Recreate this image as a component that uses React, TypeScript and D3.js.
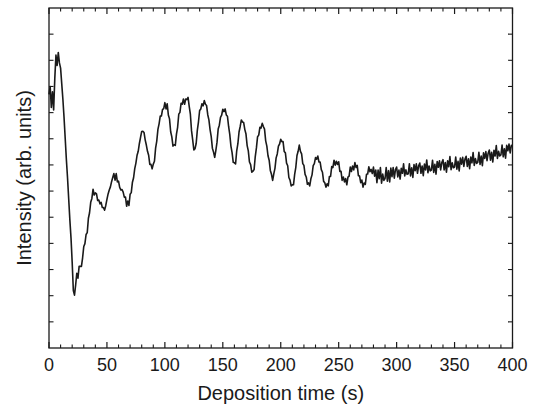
import React from "react";
import * as d3 from "d3";

// Deposition time (s), sampled every 1 s from 0 to 400
const timeStart = 0;
const timeStep = 1;

// Intensity (arb. units), one value per second
const intensity: number[] = [
  // 0-9
  9.7, 10.0, 9.2, 9.8, 9.1, 10.3, 11.2, 10.8, 11.3, 10.9,
  // 10-19
  10.7, 10.1, 9.5, 8.8, 8.0, 7.2, 6.5, 5.7, 4.9, 4.2,
  // 20-29
  3.28, 2.2, 2.02, 2.41, 2.86, 2.67, 3.12, 3.12, 3.12, 3.45,
  // 30-39
  3.88, 3.99, 4.34, 4.41, 4.96, 5.17, 5.57, 5.72, 6.07, 5.85,
  // 40-49
  5.93, 5.89, 5.64, 5.66, 5.51, 5.57, 5.37, 5.37, 5.27, 5.45,
  // 50-59
  5.68, 5.89, 6.04, 6.16, 6.36, 6.52, 6.67, 6.42, 6.67, 6.35,
  // 60-69
  6.38, 6.14, 6.04, 6.06, 5.96, 5.77, 5.77, 5.42, 5.62, 5.45,
  // 70-79
  5.88, 5.94, 6.34, 6.51, 6.86, 7.07, 7.37, 7.52, 7.82, 8.05,
  // 80-89
  8.28, 8.29, 8.24, 7.96, 7.76, 7.52, 7.37, 7.02, 7.02, 6.85,
  // 90-99
  7.03, 7.14, 7.64, 7.91, 8.36, 8.57, 8.87, 8.87, 9.12, 9.15,
  // 100-109
  9.38, 9.14, 9.34, 8.91, 8.76, 8.27, 8.07, 7.72, 7.77, 7.75,
  // 110-119
  8.18, 8.44, 8.94, 9.01, 9.36, 9.32, 9.52, 9.32, 9.52, 9.5,
  // 120-129
  9.58, 9.24, 8.94, 8.31, 7.96, 7.57, 7.62, 7.82, 8.32, 8.65,
  // 130-139
  9.08, 9.14, 9.34, 9.26, 9.46, 9.32, 9.27, 8.92, 8.72, 8.35,
  // 140-149
  8.08, 7.64, 7.49, 7.29, 7.56, 7.87, 8.37, 8.52, 8.82, 8.9,
  // 150-159
  9.13, 9.04, 9.14, 8.91, 8.86, 8.47, 8.17, 7.72, 7.47, 7.1,
  // 160-169
  7.08, 7.04, 7.54, 7.81, 8.26, 8.47, 8.72, 8.64, 8.62, 8.35,
  // 170-179
  8.18, 7.74, 7.54, 7.11, 7.01, 6.72, 6.76, 6.82, 7.32, 7.65,
  // 180-189
  8.08, 8.14, 8.44, 8.41, 8.59, 8.47, 8.37, 7.92, 7.72, 7.35,
  // 190-199
  7.18, 6.79, 6.64, 6.41, 6.66, 6.87, 7.27, 7.42, 7.72, 7.8,
  // 200-209
  7.98, 7.89, 7.89, 7.51, 7.46, 7.07, 6.97, 6.52, 6.42, 6.2,
  // 210-219
  6.24, 6.24, 6.64, 6.91, 7.36, 7.52, 7.76, 7.52, 7.42, 7.05,
  // 220-229
  6.98, 6.64, 6.54, 6.26, 6.31, 6.2, 6.47, 6.62, 6.97, 7.05,
  // 230-239
  7.28, 7.22, 7.34, 7.11, 7.11, 6.82, 6.72, 6.37, 6.32, 6.15,
  // 240-249
  6.28, 6.2, 6.56, 6.56, 6.94, 6.9, 7.18, 6.99, 7.14, 7.02,
  // 250-259
  7.12, 6.75, 6.76, 6.41, 6.54, 6.35, 6.48, 6.24, 6.53, 6.57,
  // 260-269
  6.92, 6.75, 6.96, 6.81, 7.09, 6.9, 6.98, 6.59, 6.58, 6.32,
  // 270-279
  6.42, 6.15, 6.31, 6.26, 6.64, 6.65, 6.93, 6.74, 6.83, 6.67,
  // 280-289
  6.92, 6.57, 6.8, 6.32, 6.8, 6.47, 6.9, 6.3, 6.65, 6.41,
  // 290-299
  6.48, 6.9, 6.38, 6.78, 6.35, 6.88, 6.55, 6.9, 6.49, 6.82,
  // 300-309
  6.92, 6.54, 6.8, 6.46, 6.87, 6.68, 7.04, 6.58, 6.81, 6.64,
  // 310-319
  6.66, 7.04, 6.58, 6.89, 6.52, 7.01, 6.78, 7.04, 6.68, 6.97,
  // 320-329
  7.07, 6.68, 6.96, 6.59, 7.03, 6.81, 7.19, 6.7, 6.96, 6.77,
  // 330-339
  6.8, 7.18, 6.71, 7.02, 6.65, 7.13, 6.91, 7.16, 6.81, 7.09,
  // 340-349
  7.2, 6.81, 7.09, 6.72, 7.16, 6.93, 7.32, 6.82, 7.08, 6.89,
  // 350-359
  6.92, 7.3, 6.84, 7.14, 6.77, 7.26, 7.03, 7.29, 6.94, 7.22,
  // 360-369
  7.33, 6.94, 7.23, 6.86, 7.3, 7.08, 7.47, 6.98, 7.24, 7.06,
  // 370-379
  7.1, 7.48, 7.02, 7.34, 6.97, 7.46, 7.25, 7.51, 7.16, 7.45,
  // 380-389
  7.57, 7.18, 7.48, 7.11, 7.56, 7.34, 7.74, 7.25, 7.52, 7.34,
  // 390-400
  7.38, 7.76, 7.31, 7.62, 7.26, 7.75, 7.54, 7.8, 7.46, 7.75, 7.7,
];

const xMajorTicks = [0, 50, 100, 150, 200, 250, 300, 350, 400];
const xMinorStep = 10;
const yTickCount = 13;
const xTitle = "Deposition time (s)";
const yTitle = "Intensity (arb. units)";

const W = 533;
const H = 407;
const M = { left: 49, right: 512.5, top: 8, bottom: 348 };
const FONT = "'Liberation Sans', Arial, Helvetica, sans-serif";
const INK = "#1a1a1a";

export default function App() {
  const x = d3.scaleLinear().domain([0, 400]).range([M.left, M.right]);
  const y = d3.scaleLinear().domain([0, yTickCount]).range([M.bottom, M.top]);

  const pts: [number, number][] = intensity.map((v, i) => [timeStart + i * timeStep, v]);
  const line = d3
    .line<[number, number]>()
    .x((d) => x(d[0]))
    .y((d) => y(d[1]));

  const minor = d3.range(0, 400 + 0.001, xMinorStep).filter((t) => !xMajorTicks.includes(t));
  const yTicks = d3.range(1, yTickCount);

  return (
    <svg
      width={W}
      height={H}
      style={{ position: "absolute", left: 0, top: 0, background: "#fff" }}
      fontFamily={FONT}
    >
      <rect x={0} y={0} width={W} height={H} fill="#fff" />
      <path d={line(pts) || ""} fill="none" stroke={INK} strokeWidth={1.6} strokeLinejoin="round" />

      {/* frame */}
      <rect
        x={M.left}
        y={M.top}
        width={M.right - M.left}
        height={M.bottom - M.top}
        fill="none"
        stroke={INK}
        strokeWidth={1.3}
      />

      {/* x ticks bottom and top */}
      {xMajorTicks.map((t) => (
        <g key={"xM" + t}>
          <line x1={x(t)} x2={x(t)} y1={M.bottom} y2={M.bottom - 6} stroke={INK} strokeWidth={1.2} />
          <line x1={x(t)} x2={x(t)} y1={M.top} y2={M.top + 6} stroke={INK} strokeWidth={1.2} />
          <text x={x(t)} y={370.5} textAnchor="middle" fontSize={18} fill={INK}>
            {t}
          </text>
        </g>
      ))}
      {minor.map((t) => (
        <g key={"xm" + t}>
          <line x1={x(t)} x2={x(t)} y1={M.bottom} y2={M.bottom - 3.5} stroke={INK} strokeWidth={1.1} />
          <line x1={x(t)} x2={x(t)} y1={M.top} y2={M.top + 3.5} stroke={INK} strokeWidth={1.1} />
        </g>
      ))}

      {/* y ticks left and right (no labels) */}
      {yTicks.map((v) => (
        <g key={"y" + v}>
          <line x1={M.left} x2={M.left + 4.5} y1={y(v)} y2={y(v)} stroke={INK} strokeWidth={1.1} />
          <line x1={M.right} x2={M.right - 4.5} y1={y(v)} y2={y(v)} stroke={INK} strokeWidth={1.1} />
        </g>
      ))}

      <text x={(M.left + M.right) / 2} y={400} textAnchor="middle" fontSize={20} fill={INK}>
        {xTitle}
      </text>
      <text
        transform={`translate(31, ${(M.top + M.bottom) / 2}) rotate(-90)`}
        textAnchor="middle"
        fontSize={20}
        fill={INK}
      >
        {yTitle}
      </text>
    </svg>
  );
}
